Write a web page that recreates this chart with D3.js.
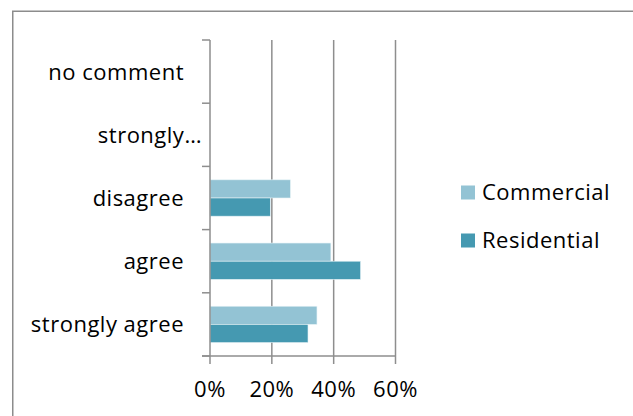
<!DOCTYPE html>
<html>
<head>
<meta charset="utf-8">
<script src="https://cdn.jsdelivr.net/npm/d3@7"></script>
<style>
  html, body { margin: 0; padding: 0; background: #fff; }
  svg { display: block; }
  text { font-family: "Open Sans", "Noto Sans", sans-serif; fill: #000; font-size: 22px; letter-spacing: 0.5px; }
</style>
</head>
<body>
<svg id="chart" width="633" height="416"></svg>
<script>
// Survey answers, bottom to top as on the axis
const categories = ["strongly agree", "agree", "disagree", "strongly…", "no comment"];
const series = ["Commercial", "Residential"];
const commercial = [34.6, 39.1, 26.0, 0, 0];
const residential = [31.7, 48.7, 19.5, 0, 0];
const xTicks = [0, 20, 40, 60];
const colors = { Commercial: "#93c3d4", Residential: "#4599b1" };

const values = { Commercial: commercial, Residential: residential };
const rows = categories.map((c, i) => ({ cat: c, vals: series.map(s => ({ s, v: values[s][i] })) }));

const svg = d3.select("#chart");
const plot = { left: 210, right: 395.5, top: 40, bottom: 356 };

// outer frame (runs off the right and bottom edges)
svg.append("rect")
  .attr("x", 12.75).attr("y", 11.25)
  .attr("width", 700).attr("height", 500)
  .attr("fill", "none").attr("stroke", "#8c8c8c").attr("stroke-width", 1.5);

const x = d3.scaleLinear().domain([0, 60]).range([plot.left, plot.right]);
const y = d3.scaleBand().domain(categories).range([plot.bottom, plot.top])
  .paddingInner(0.425).paddingOuter(0.2125);
const ySub = d3.scaleBand().domain(series).range([0, y.bandwidth()]);
const step = y.step();

// vertical gridlines
svg.append("g").selectAll("line").data(xTicks.filter(t => t > 0)).join("line")
  .attr("x1", d => x(d)).attr("x2", d => x(d))
  .attr("y1", plot.top).attr("y2", plot.bottom)
  .attr("stroke", "#8e8e8e").attr("stroke-width", 1.5);

// bars
const groups = svg.append("g").selectAll("g").data(rows).join("g")
  .attr("transform", d => `translate(0,${y(d.cat)})`);
groups.selectAll("rect").data(d => d.vals.filter(e => e.v > 0)).join("rect")
  .attr("x", x(0))
  .attr("y", d => ySub(d.s))
  .attr("width", d => x(d.v) - x(0))
  .attr("height", ySub.bandwidth())
  .attr("fill", d => colors[d.s])
  .attr("stroke", "#e6f2f6").attr("stroke-width", 0.6);

// category axis with ticks between categories
const yAxis = svg.append("g");
yAxis.append("line")
  .attr("x1", plot.left).attr("x2", plot.left)
  .attr("y1", plot.top).attr("y2", plot.bottom)
  .attr("stroke", "#8e8e8e").attr("stroke-width", 1.5);
const boundaries = d3.range(categories.length + 1).map(i => plot.bottom - i * step);
yAxis.selectAll("line.tick").data(boundaries).join("line").attr("class", "tick")
  .attr("x1", plot.left - 8).attr("x2", plot.left)
  .attr("y1", d => d).attr("y2", d => d)
  .attr("stroke", "#8e8e8e").attr("stroke-width", 1.5);
// truncated labels run up to the tick marks
yAxis.selectAll("text").data(categories).join("text")
  .attr("x", d => d.endsWith("…") ? plot.left - 8 : plot.left - 26)
  .attr("y", d => y(d) + y.bandwidth() / 2 + 8)
  .attr("text-anchor", "end")
  .text(d => d);

// value axis
const xAxis = svg.append("g");
xAxis.append("line")
  .attr("x1", plot.left - 8).attr("x2", plot.right)
  .attr("y1", plot.bottom).attr("y2", plot.bottom)
  .attr("stroke", "#8e8e8e").attr("stroke-width", 1.5);
xAxis.selectAll("line.tick").data(xTicks).join("line").attr("class", "tick")
  .attr("x1", d => x(d)).attr("x2", d => x(d))
  .attr("y1", plot.bottom).attr("y2", plot.bottom + 8)
  .attr("stroke", "#8e8e8e").attr("stroke-width", 1.5);
xAxis.selectAll("text").data(xTicks).join("text")
  .attr("x", d => x(d))
  .attr("y", 397)
  .attr("text-anchor", "middle")
  .text(d => d + "%");

// legend
const legend = svg.append("g").selectAll("g").data(series).join("g")
  .attr("transform", (d, i) => `translate(461,${192.5 + i * 48})`);
legend.append("rect")
  .attr("x", 0).attr("y", -7).attr("width", 14).attr("height", 14)
  .attr("fill", d => colors[d]);
legend.append("text")
  .attr("x", 21).attr("y", 7.5)
  .text(d => d);
</script>
</body>
</html>
